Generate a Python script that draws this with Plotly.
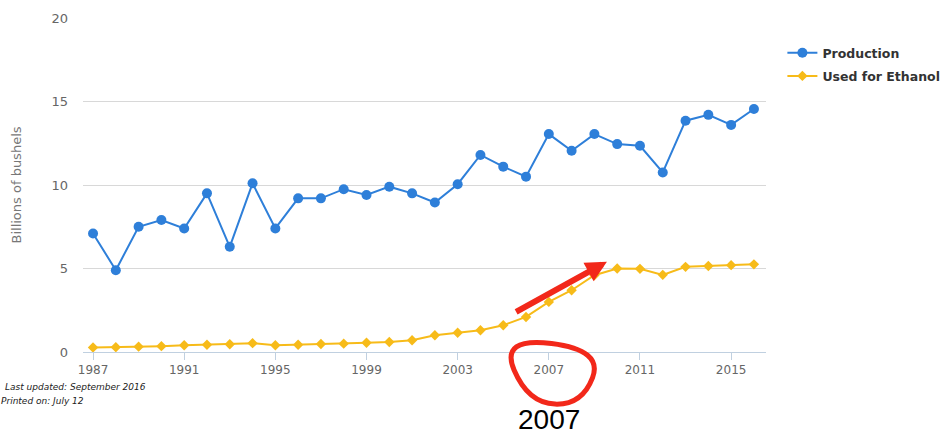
import plotly.graph_objects as go

years = list(range(1987, 2017))
production = [7.1, 4.9, 7.5, 7.9, 7.4, 9.5, 6.3, 10.1, 7.4, 9.2,
              9.2, 9.75, 9.4, 9.9, 9.5, 8.95, 10.05, 11.8, 11.1, 10.5,
              13.05, 12.05, 13.05, 12.45, 12.35, 10.75, 13.85, 14.2, 13.6, 14.55]
ethanol = [0.27, 0.29, 0.32, 0.35, 0.4, 0.43, 0.46, 0.53, 0.4, 0.43,
           0.48, 0.5, 0.55, 0.6, 0.7, 1.0, 1.15, 1.3, 1.6, 2.1,
           3.0, 3.7, 4.6, 5.0, 4.98, 4.62, 5.1, 5.15, 5.2, 5.25]
tick_years = [1987, 1991, 1995, 1999, 2003, 2007, 2011, 2015]

font_family = "'DejaVu Sans', sans-serif"
red = '#f2281a'

# hand-drawn loop round the 2007 tick label: corners in (year, paper) units,
# smoothed into a rounded quadrilateral
loop = [(2004.86, 0.045), (2009.38, 0.006), (2008.46, -0.159), (2006.09, -0.153)]
mids = [((loop[i][0] + loop[(i + 1) % 4][0]) / 2, (loop[i][1] + loop[(i + 1) % 4][1]) / 2)
        for i in range(4)]
loop_path = f"M {mids[3][0]},{mids[3][1]}"
for i in range(4):
    loop_path += f" Q {loop[i][0]},{loop[i][1]} {mids[i][0]},{mids[i][1]}"
loop_path += " Z"

fig = go.Figure([
    go.Scatter(
        x=years, y=production, name='Production', mode='lines+markers',
        legendgroup='a',
        line=dict(color='#2e7fd9', width=2),
        marker=dict(symbol='circle', size=10, color='#2e7fd9'),
    ),
    go.Scatter(
        x=years, y=ethanol, name='Used for Ethanol', mode='lines+markers',
        legendgroup='b',
        line=dict(color='#f7bb19', width=2),
        marker=dict(symbol='diamond', size=8, color='#f7bb19'),
    ),
])

fig.update_layout(
    template='simple_white',
    width=943,
    height=436,
    font=dict(family=font_family, color='#666666', size=12),
    margin=dict(l=83, r=177, t=18, b=84, autoexpand=False),
    plot_bgcolor='white',
    paper_bgcolor='white',
    legend=dict(
        x=1.024, y=0.94, xanchor='left', yanchor='top',
        font=dict(size=12.5, color='#333333', weight='bold'),
        itemwidth=30, traceorder='grouped', tracegroupgap=4,
    ),
    xaxis=dict(
        range=[1986.56, 2016.53],
        tickvals=tick_years,
        showgrid=False, automargin=False,
        showline=True, linecolor='#c0d0e0', linewidth=1,
        ticks='outside', tickcolor='#c0d0e0', ticklen=7,
        tickfont=dict(size=12, color='#666666'),
        zeroline=False,
    ),
    yaxis=dict(
        range=[0, 20],
        tickvals=[0, 5, 10, 15, 20],
        showgrid=True, gridcolor='#d8d8d8', gridwidth=1, automargin=False,
        showline=False, ticks='', ticklen=0, ticklabelstandoff=14,
        tickfont=dict(size=13, color='#666666'),
        title=dict(text='Billions of bushels', font=dict(size=13, color='#777777'), standoff=26),
        zeroline=False,
    ),
    shapes=[
        dict(type='path', path=loop_path, xref='x', yref='paper',
             fillcolor='rgba(0,0,0,0)', opacity=1, layer='above',
             line=dict(color=red, width=5)),
    ],
    annotations=[
        dict(x=2009.55, y=5.4, ax=2005.5, ay=2.35, xref='x', yref='y',
             axref='x', ayref='y', text='', showarrow=True,
             arrowhead=2, arrowsize=0.7, arrowwidth=6, arrowcolor=red),
        dict(x=2007, y=-0.203, xref='x', yref='paper', yanchor='middle', text='2007',
             showarrow=False, font=dict(size=28, color='#000000', family="'Liberation Sans', Arial, sans-serif")),
        dict(x=-0.117, y=-0.105, xref='paper', yref='paper', xanchor='left', yanchor='middle',
             text='<i>Last updated: September 2016</i>', showarrow=False,
             font=dict(size=9, color='#222222')),
        dict(x=-0.123, y=-0.147, xref='paper', yref='paper', xanchor='left', yanchor='middle',
             text='<i>Printed on: July 12</i>', showarrow=False,
             font=dict(size=9, color='#222222')),
    ],
)

# the page's default body margin would shift the whole chart by 8px
fig.write_html("out.html", config=dict(displayModeBar=False),
               post_script="document.body.style.margin = '0px';")
